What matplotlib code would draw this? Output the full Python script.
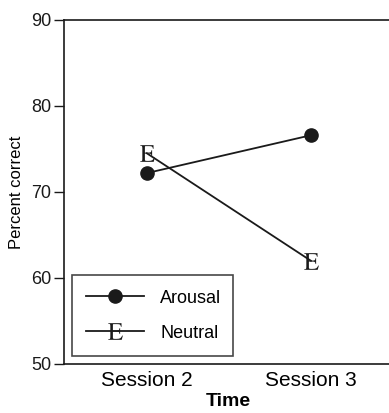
import matplotlib
matplotlib.use("Agg")
import matplotlib.pyplot as plt

plt.rcParams['font.family'] = ['Liberation Sans', 'DejaVu Sans']
plt.rcParams['mathtext.fontset'] = 'stix'

sessions = ["Session 2", "Session 3"]
arousal = [72.2, 76.6]
neutral = [74.5, 62.0]
yticks = [50, 60, 70, 80, 90]

W, H = 389, 413
fig = plt.figure(figsize=(W/100, H/100), dpi=100)
ax = fig.add_axes([64/W, (H-364)/H, 329/W, 344/H])

x = list(range(len(sessions)))
ax.plot(x, arousal, color='#1a1a1a', lw=1.3, marker='o', ms=9.5,
        label='Arousal')
ax.plot(x, neutral, color='#1a1a1a', lw=1.3, marker=r'$\mathrm{E}$', ms=12,
        markeredgewidth=0, label='Neutral')

ax.set_xlim(-0.505, 1.5)
ax.set_ylim(50, 90)
ax.set_yticks(yticks)
ax.set_xticks(x)
ax.set_xticklabels(sessions, fontsize=15)
ax.tick_params(axis='x', length=0, pad=5)
ax.tick_params(axis='y', direction='out', length=7, width=1, labelsize=13, pad=2, colors='#1a1a1a')
for s in ax.spines.values():
    s.set_color('#1a1a1a')
    s.set_linewidth(1.2)

ax.set_xlabel('Time', fontsize=14, fontweight='bold', labelpad=2)
ax.set_ylabel('Percent correct', fontsize=12, labelpad=5)

leg = ax.legend(loc='lower left', bbox_to_anchor=(0.024, 0.023, 0.49, 0.239),
                mode='expand', borderaxespad=0, fancybox=False, fontsize=13,
                handlelength=3.2, handletextpad=0.9, labelspacing=1.0,
                borderpad=0.8, frameon=True)
leg.get_frame().set_edgecolor('#1a1a1a')
leg.get_frame().set_linewidth(1.2)

fig.savefig('out.png', dpi=100)
